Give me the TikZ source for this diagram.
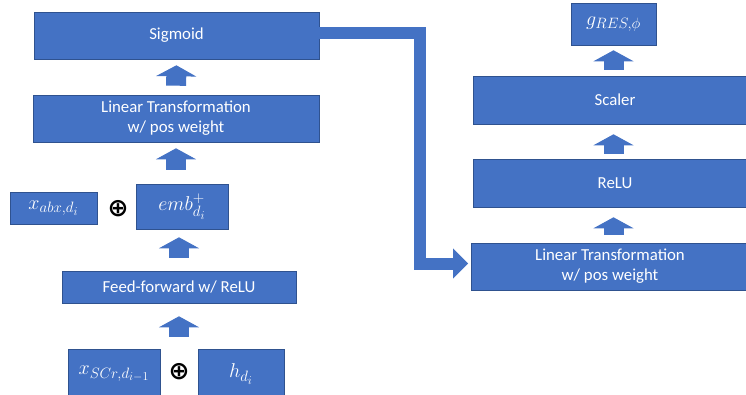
\RequirePackage{fix-cm}
\documentclass[tikz,border=0pt]{standalone}
\usepackage{amsmath,amssymb}
\usepackage{fontspec}
\setmainfont{Carlito}
\newfontfamily\symbolfont{DejaVu Sans}
\usetikzlibrary{arrows.meta}
\definecolor{boxfill}{RGB}{68, 114, 196}
\definecolor{boxline}{RGB}{47, 82, 143}
\DeclareMathSizes{20}{20}{15}{12}

\begin{document}
\begin{tikzpicture}[x=1pt, y=-1pt,
  block/.style={fill=boxfill, draw=boxline, line width=0.6pt, text=white,
    inner sep=0pt, align=center, font=\fontsize{16.8}{20}\selectfont},
  mathblock/.style={block, font=\fontsize{20}{24}\selectfont},
  plus/.style={inner sep=0pt, font=\symbolfont\bfseries\fontsize{25}{25}\selectfont},
  up/.style={draw=boxfill, line width=20pt,
    -{Triangle[width=40pt, length=11pt, line width=1pt]}},
  bentarrow/.style={draw=boxfill, line width=12pt, line join=miter,
    -{Triangle[width=30pt, length=15pt, line width=1pt]}}]
  \useasboundingbox (0, 0) rectangle (746, 395);
  \clip (0, 0) rectangle (746, 395);

  % left column
  \node[block, minimum width=285pt, minimum height=47pt] (sig) at (176.5, 35.5) {Sigmoid};
  \node[block, minimum width=286pt, minimum height=47pt] (lin1) at (176, 118.5)
    {Linear Transformation\\w/ pos weight};
  \node[mathblock, minimum width=87pt, minimum height=32pt] (xabx) at (53.5, 208) {$x_{abx,d_i}$};
  \node[plus] (plus1) at (118, 209) {⊕};
  \node[mathblock, minimum width=92pt, minimum height=45pt] (emb) at (182, 206.5) {$emb^{+}_{d_i}$};
  \node[block, minimum width=234pt, minimum height=32pt] (ff) at (179, 287) {Feed-forward w/ ReLU};
  \node[mathblock, minimum width=92pt, minimum height=50pt] (xscr) at (114, 374) {$x_{SCr,d_{i-1}}$};
  \node[plus] (plus2) at (179, 372) {⊕};
  \node[mathblock, minimum width=86pt, minimum height=50pt] (hdi) at (241, 374) {$h_{d_i}$};

  % right column
  \node[mathblock, minimum width=85pt, minimum height=42pt] (gres) at (613.5, 24) {$g_{RES,\phi}$};
  \node[block, minimum width=280pt, minimum height=48pt, anchor=west] (scaler) at (473, 100) {};
  \node at (615, 100) [text=white, font=\fontsize{16.8}{20}\selectfont] {Scaler};
  \node[block, minimum width=280pt, minimum height=48pt, anchor=west] (relu) at (473, 183) {};
  \node at (615, 183) [text=white, font=\fontsize{16.8}{20}\selectfont] {ReLU};
  \node[block, minimum width=280pt, minimum height=47pt, anchor=west] (lin2) at (471, 266.5) {};
  \node at (610, 266.5) [text=white, align=center, font=\fontsize{16.8}{20}\selectfont]
    {Linear Transformation\\w/ pos weight};

  % arrows
  \draw[up, shorten <=12pt, shorten >=13pt] (ff.south |- xscr.north) -- (ff.south);
  \draw[up, shorten <=13pt, shorten >=8pt] (ff.north) -- (ff.north |- emb.south);
  \draw[up, shorten <=14pt, shorten >=6pt] (lin1.south |- emb.north) -- (lin1.south);
  \draw[up, shorten <=9pt, shorten >=6pt] (lin1.north) -- (sig.south);
  \draw[up, shorten <=8pt, shorten >=10pt] (gres.south |- lin2.north) -- (gres.south |- relu.south);
  \draw[up, shorten <=5pt, shorten >=10pt] (gres.south |- relu.north) -- (gres.south |- scaler.south);
  \draw[up, shorten <=6pt, shorten >=5pt] (gres.south |- scaler.north) -- (gres.south);

  \coordinate (turn) at (420, 0);
  \draw[bentarrow, shorten >=3pt] ([yshift=2pt]sig.east) -- ([yshift=2pt]sig.east -| turn)
    -- ([yshift=3pt]turn |- lin2.west) -- ([yshift=3pt]lin2.west);
\end{tikzpicture}
\end{document}
